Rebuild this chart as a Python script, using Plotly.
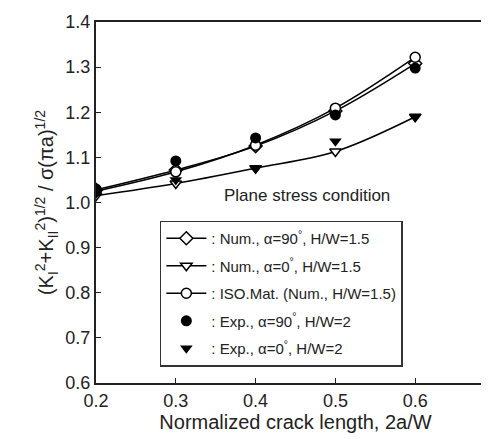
import plotly.graph_objects as go

x = [0.2, 0.3, 0.4, 0.5, 0.6]
num90 = [1.028, 1.072, 1.125, 1.203, 1.308]
num0 = [1.015, 1.042, 1.076, 1.113, 1.190]
iso = [1.025, 1.068, 1.127, 1.209, 1.322]
exp90 = [1.030, 1.092, 1.143, 1.194, 1.298]
exp0 = [1.020, 1.050, 1.076, 1.136, 1.190]

names = [": Num., α=90<sup>°</sup>, H/W=1.5",
         ": Num., α=0<sup>°</sup>, H/W=1.5",
         ": ISO.Mat. (Num., H/W=1.5)",
         ": Exp., α=90<sup>°</sup>, H/W=2",
         ": Exp., α=0<sup>°</sup>, H/W=2"]

FONT = "Liberation Sans, Arial, sans-serif"
fig = go.Figure()
mline = dict(color="black", width=1.5)
fig.add_trace(go.Scatter(x=x, y=num90, name=names[0], mode="lines+markers", legendgroup="a",
                         line=dict(color="black", width=1.5, shape="spline"),
                         marker=dict(symbol="diamond", size=10, color="white", line=mline)))
fig.add_trace(go.Scatter(x=x, y=num0, name=names[1], mode="lines+markers", legendgroup="b",
                         line=dict(color="black", width=1.5, shape="spline"),
                         marker=dict(symbol="triangle-down", size=10, color="white", line=mline)))
fig.add_trace(go.Scatter(x=x, y=iso, name=names[2], mode="lines+markers", legendgroup="c",
                         line=dict(color="black", width=1.5, shape="spline"),
                         marker=dict(symbol="circle", size=10, color="white", line=mline)))
fig.add_trace(go.Scatter(x=x, y=exp90, name=names[3], mode="markers", legendgroup="d",
                         marker=dict(symbol="circle", size=11, color="black")))
fig.add_trace(go.Scatter(x=x, y=exp0, name=names[4], mode="markers", legendgroup="e",
                         marker=dict(symbol="triangle-down", size=11, color="black")))

fig.update_layout(
    width=489, height=439,
    margin=dict(l=88, r=2, t=14, b=64, autoexpand=False),
    paper_bgcolor="white", plot_bgcolor="white",
    font=dict(family=FONT, size=18, color="#222"),
    showlegend=True,
    legend=dict(x=0.16, y=0.45, xanchor="left", yanchor="top",
                bordercolor="#333", borderwidth=1.5, bgcolor="white",
                font=dict(size=15, color="#222"), tracegroupgap=5,
                itemwidth=40),
    xaxis=dict(range=[0.2, 0.7], tickvals=[0.2, 0.3, 0.4, 0.5, 0.6, 0.7],
               ticktext=["0.2", "0.3", "0.4", "0.5", "0.6", "0.7"], automargin=False,
               ticklabeloverflow="allow",
               ticks="inside", ticklen=5, tickcolor="#222", showgrid=False,
               zeroline=False, showline=True, linecolor="#222", linewidth=2, mirror=True,
               title=dict(text="Normalized crack length, 2a/W", font=dict(size=20), standoff=4)),
    yaxis=dict(range=[0.6, 1.4], tickvals=[0.6, 0.7, 0.8, 0.9, 1.0, 1.1, 1.2, 1.3, 1.4],
               tickformat=".1f", automargin=False,
               ticks="inside", ticklen=5, tickcolor="#222", showgrid=False,
               zeroline=False, showline=True, linecolor="#222", linewidth=2, mirror=True,
               title=dict(text="(K<sub>I</sub><sup>2</sup>+K<sub>II</sub><sup>2</sup>)<sup>1/2</sup> / σ(πa)<sup>1/2</sup>",
                          font=dict(size=20), standoff=6)),
    annotations=[dict(text="Plane stress condition", x=0.53, y=0.488, xref="paper", yref="paper",
                      xanchor="center", yanchor="bottom", showarrow=False,
                      font=dict(size=17, color="#222"))],
)
fig.write_html("out.html")
